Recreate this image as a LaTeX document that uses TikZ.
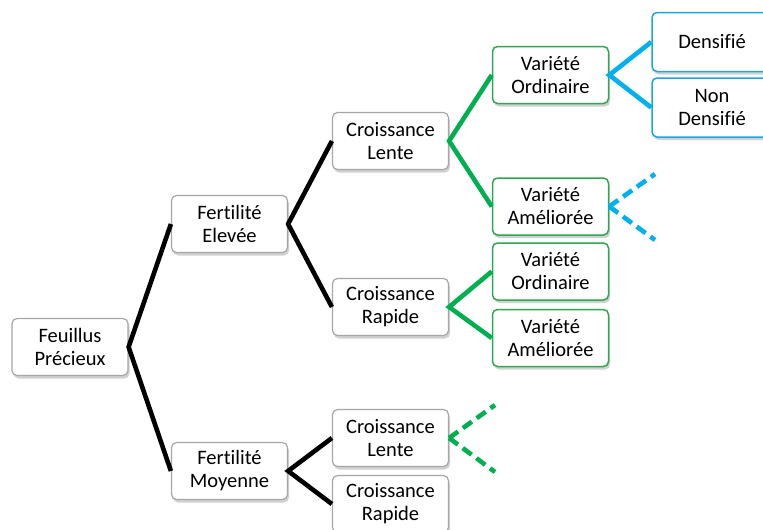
\documentclass[tikz,border=0pt]{standalone}
\usepackage{fontspec}
\setmainfont{Carlito}[RawFeature={-liga;-clig;-calt;-dlig}]
\usetikzlibrary{shadows}
\definecolor{ogreen}{HTML}{00B050}
\definecolor{oblue}{HTML}{00B0F0}
\definecolor{gborder}{HTML}{A6A6A6}
\definecolor{gbox}{HTML}{2EA84F}
\definecolor{bbox}{HTML}{1AA7E0}
\begin{document}
\begin{tikzpicture}[x=1pt,y=-1pt,
  box/.style={draw=gborder, line width=1.2pt, rounded corners=5pt, fill=white,
    minimum width=116pt, minimum height=57pt, align=center, inner sep=0pt,
    font=\fontsize{20.5}{23}\selectfont,
    drop shadow={shadow xshift=1.5pt, shadow yshift=-3pt, opacity=0.3, fill=black!60}},
  gbx/.style={box, draw=gbox, line width=1.5pt},
  bbx/.style={box, draw=bbox, line width=1.5pt, minimum width=120pt, minimum height=59pt},
  blk/.style={line width=4.6pt, black},
  grn/.style={line width=4.6pt, ogreen},
  blu/.style={line width=4.6pt, oblue},
  dsh/.style={dash pattern=on 11pt off 6pt, line width=4.6pt}]
\useasboundingbox (0,0) rectangle (763,530);
\clip (0,0) rectangle (763,530);
% nodes
\node[box] (fp) at (70,347) {Feuillus\\Précieux};
\node[box] (fe) at (229.5,224) {Fert\kern0pt ilité\\Elevée};
\node[box] (fm) at (229.5,471) {Fert\kern0pt ilité\\Moyenne};
\node[box] (cl1) at (390.5,141) {Croissance\\Lente};
\node[box] (cr1) at (390.5,307) {Croissance\\Rapide};
\node[box] (cl2) at (390.5,438) {Croissance\\Lente};
\node[box] (cr2) at (390.5,504) {Croissance\\Rapide};
\node[gbx] (vo1) at (550.5,75) {Variété\\Ordinaire};
\node[gbx] (va1) at (550.5,206.5) {Variété\\Améliorée};
\node[gbx] (vo2) at (550.5,271.5) {Variété\\Ordinaire};
\node[gbx] (va2) at (550.5,338) {Variété\\Améliorée};
\node[bbx] (d1) at (712,42) {Densif\kern0pt ié};
\node[bbx] (d2) at (712,107.5) {Non\\Densif\kern0pt ié};
\coordinate (b1) at (655,174);
\coordinate (b2) at (655,240);
\coordinate (g1) at (495,405);
\coordinate (g2) at (495,472);
% connectors
\draw[blk] (fe.west) -- (fp.east) -- (fm.west);
\draw[blk] (cl1.west) -- (fe.east) -- (cr1.west);
\draw[blk] (cl2.west) -- (fm.east) -- (cr2.west);
\draw[grn] (vo1.west) -- (cl1.east) -- (va1.west);
\draw[grn] (vo2.west) -- (cr1.east) -- (va2.west);
\draw[blu] (d1.west) -- (vo1.east) -- (d2.west);
\draw[blu,dsh] (va1.east) -- (b1);
\draw[blu,dsh] (va1.east) -- (b2);
\draw[grn,dsh] (cl2.east) -- (g1);
\draw[grn,dsh] (cl2.east) -- (g2);
\end{tikzpicture}
\end{document}
